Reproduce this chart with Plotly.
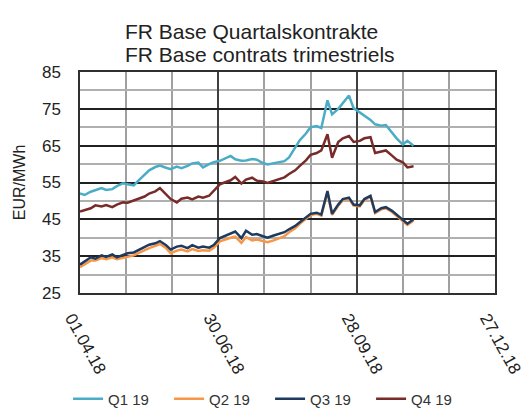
import pandas as pd
import plotly.graph_objects as go

# trading days, counted from 01.04.18
day_offsets = [0, 3, 7, 10, 14, 17, 21, 24, 28, 31, 35, 38, 42, 45, 49, 52, 56, 59, 63, 66,
               70, 73, 77, 80, 84, 87, 91, 94, 98, 101, 105, 108, 112, 115, 119, 122, 126, 129,
               133, 136, 140, 143, 147, 150, 154, 157, 161, 164, 168, 171, 175, 178, 182, 185,
               189, 192, 196, 199, 203, 206, 210, 213, 217]
dates = [pd.Timestamp("2018-04-01") + pd.Timedelta(days=d) for d in day_offsets]

q1_19 = [52.0, 51.6, 52.5, 53.0, 53.5, 53.0, 53.2, 54.0, 54.8, 54.5, 54.2, 55.5, 57.0, 58.3,
         59.2, 59.6, 59.0, 58.6, 59.3, 58.9, 59.5, 60.2, 60.4, 59.1, 60.0, 60.5, 60.9, 61.5,
         62.2, 61.3, 60.9, 61.0, 61.4, 61.2, 60.3, 59.9, 60.2, 60.4, 60.8, 61.8, 64.5, 66.5,
         68.3, 70.0, 70.3, 69.8, 77.3, 73.5, 75.0, 76.5, 78.6, 75.2, 74.0, 73.2, 72.0, 70.8,
         70.4, 70.6, 68.5, 67.0, 65.3, 66.3, 65.0]
q2_19 = [32.0, 32.8, 33.8, 33.8, 34.5, 34.2, 34.7, 34.2, 34.6, 35.0, 35.2, 35.8, 36.7, 37.2,
         37.8, 38.3, 37.2, 35.8, 36.5, 36.8, 36.3, 36.9, 36.4, 36.6, 36.5, 37.3, 39.0, 39.5,
         40.0, 40.3, 38.6, 40.2, 39.3, 39.5, 39.0, 38.8, 39.3, 39.8, 40.4, 41.5, 42.6, 43.8,
         45.2, 46.2, 46.5, 46.0, 52.3, 46.2, 48.7, 50.2, 50.6, 48.7, 48.5, 50.2, 51.1, 46.7,
         47.7, 48.0, 47.0, 46.0, 44.7, 43.5, 44.7]
q3_19 = [32.7, 33.5, 34.7, 34.3, 35.2, 34.8, 35.5, 34.7, 35.3, 35.8, 36.0, 36.6, 37.5, 38.1,
         38.5, 39.1, 38.0, 36.8, 37.6, 37.8, 37.2, 38.0, 37.3, 37.6, 37.3, 38.0, 39.9, 40.5,
         41.2, 41.7, 39.9, 41.9, 40.8, 41.0, 40.4, 40.0, 40.6, 41.0, 41.5, 42.3, 43.2, 44.2,
         45.5, 46.5, 46.8, 46.3, 52.7, 46.5, 49.0, 50.5, 50.9, 49.0, 48.8, 50.5, 51.4, 47.0,
         48.0, 48.3, 47.3, 46.3, 45.0, 43.8, 45.0]
q4_19 = [47.1, 47.5, 48.0, 48.8, 48.5, 48.9, 48.3, 49.0, 49.6, 49.5, 50.1, 50.5, 51.2, 52.0,
         52.6, 53.5, 51.9, 50.5, 49.6, 50.6, 50.9, 50.4, 51.2, 50.9, 51.4, 52.8, 54.5, 55.0,
         55.6, 56.5, 54.7, 55.8, 56.3, 55.5, 55.3, 54.9, 55.5, 56.0, 56.4, 57.3, 58.3, 59.5,
         61.0, 62.5, 63.0, 63.7, 68.1, 61.7, 66.0, 67.0, 67.6, 66.0, 66.3, 67.0, 67.3, 63.0,
         63.5, 63.7, 62.3, 61.2, 60.5, 59.1, 59.4]

series_names = ["Q1 19", "Q2 19", "Q3 19", "Q4 19"]
series_values = [q1_19, q2_19, q3_19, q4_19]
series_colors = ["#4BACC6", "#F79646", "#1F3A5F", "#772C2A"]

x_tick_dates = ["2018-04-01", "2018-06-30", "2018-09-28", "2018-12-27"]
x_tick_labels = ["01.04.18", "30.06.18", "28.09.18", "27.12.18"]

title_lines = ["FR Base Quartalskontrakte", "FR Base contrats trimestriels"]

FONT = "Liberation Sans, Arial, sans-serif"

fig = go.Figure()
for name, vals, col in zip(series_names, series_values, series_colors):
    fig.add_trace(go.Scatter(x=dates, y=vals, mode="lines", name=name,
                             line=dict(color=col, width=2.5)))

fig.update_layout(
    width=529, height=420,
    margin=dict(l=72, r=42, t=64, b=122),
    paper_bgcolor="white", plot_bgcolor="white",
    font=dict(family=FONT, color="#222222", size=16),
    showlegend=True,
    legend=dict(orientation="h", x=0.458, xanchor="center", y=-0.48, yanchor="middle",
                font=dict(size=15, color="#333333"), entrywidth=56, tracegroupgap=0),
)
for i, line in enumerate(title_lines):
    fig.add_annotation(text=line, xref="paper", yref="paper", x=(115 - 72) / 415, y=1.0,
                       xanchor="left", yanchor="bottom", yshift=[27, 4][i], align="left",
                       showarrow=False, font=dict(size=21, color="#222222", family=FONT))

fig.update_xaxes(
    range=["2018-04-01", "2018-12-27"], tickvals=x_tick_dates, ticktext=x_tick_labels,
    tickangle=61, tickfont=dict(size=17, color="#222222"), ticklabelstandoff=7,
    ticklabelshift=-8, ticklabeloverflow="allow",
    automargin=False,
    showgrid=True, gridcolor="#404040", gridwidth=1.5,
    minor=dict(dtick=30 * 86400000, tick0="2018-04-01", showgrid=True,
               gridcolor="#A0A0A0", gridwidth=1.5),
    showline=True, linecolor="#303030", linewidth=1.5, mirror=True,
    ticks="", zeroline=False,
)
fig.update_yaxes(
    range=[25, 85], tick0=25, dtick=10, tickfont=dict(size=17, color="#222222"),
    ticklabelstandoff=14,
    title=dict(text="EUR/MWh", font=dict(size=16, color="#222222"), standoff=12),
    showgrid=True, gridcolor="#202020", gridwidth=1.5,
    minor=dict(dtick=5, tick0=25, showgrid=True, gridcolor="#B0B0B0", gridwidth=2),
    showline=True, linecolor="#303030", linewidth=1.5, mirror=True,
    ticks="", zeroline=False,
)

fig.write_html("out.html")
